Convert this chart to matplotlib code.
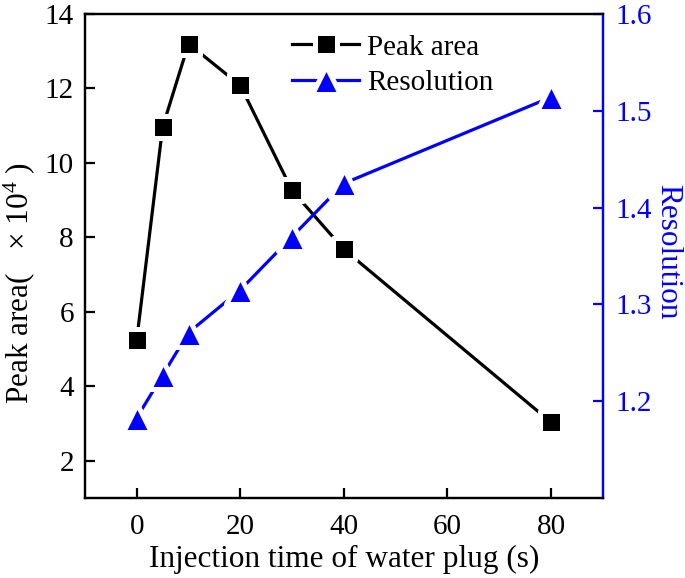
import matplotlib
matplotlib.use("Agg")
import matplotlib.pyplot as plt
from matplotlib.markers import MarkerStyle

plt.rcParams['font.family'] = ['Liberation Serif', 'DejaVu Serif']
plt.rcParams['mathtext.fontset'] = 'custom'
plt.rcParams['mathtext.rm'] = 'Liberation Serif'
plt.rcParams['mathtext.it'] = 'Liberation Serif:italic'

## data
timeS = [0, 5, 10, 20, 30, 40, 80]
peakArea = [5.25, 10.96, 13.2, 12.08, 9.26, 7.68, 3.04]
resolution = [1.183, 1.227, 1.271, 1.315, 1.370, 1.425, 1.514]

xTicks = [0, 20, 40, 60, 80]
leftTicks = [2, 4, 6, 8, 10, 12, 14]
rightTicks = [1.2, 1.3, 1.4, 1.5, 1.6]

blue = '#0000FF'

fig = plt.figure(figsize=(6.85, 5.78), dpi=100)
ax = fig.add_axes([0.124, 0.138, 0.756, 0.838])
ax2 = ax.twinx()

## white marker edge gives the gap between line and marker (Origin style)
sq = MarkerStyle('s', joinstyle='round')
tri = MarkerStyle('^', joinstyle='round')
l1, = ax.plot(timeS, peakArea, color='black', lw=2.3, marker=sq, markersize=15.6,
              markerfacecolor='black', markeredgecolor='white', markeredgewidth=3.6)
l2, = ax2.plot(timeS, resolution, color=blue, lw=2.3, marker=tri, markersize=20,
               markerfacecolor=blue, markeredgecolor='white', markeredgewidth=3.6)

ax.set_xlim(-10, 90)
ax.set_ylim(1, 14)
ax2.set_ylim(1.1, 1.6)
ax.set_xticks(xTicks)
ax.set_yticks(leftTicks)
ax2.set_yticks(rightTicks)
ax2.set_yticklabels([str(v) for v in rightTicks])

for a in (ax, ax2):
	for s in a.spines.values():
		s.set_linewidth(1.6)
ax2.spines['right'].set_color(blue)

ax.tick_params(axis='both', direction='in', length=7, width=1.6, labelsize=21, pad=8)
ax.tick_params(axis='x', pad=11)
ax.tick_params(axis='y', right=False)
ax2.tick_params(axis='y', direction='in', length=7, width=1.6, labelsize=21,
                colors=blue, pad=9)

ax.set_xlabel("Injection time of water plug (s)", fontsize=22.5)
ax.xaxis.set_label_coords(0.5, -0.097)
ax.set_ylabel("Peak area(   × 10$^4$ )", fontsize=22.5)
ax.yaxis.set_label_coords(-0.093, 0.444)
ax2.set_ylabel("Resolution", fontsize=22.5, color=blue, rotation=270, va='bottom')
ax2.yaxis.set_label_coords(1.0965, 0.508)

leg = ax.legend([l1, l2], ["Peak area", "Resolution"], loc='upper left',
                bbox_to_anchor=(0.40, 0.958), frameon=False, fontsize=21,
                handlelength=2.3, handletextpad=0.28, labelspacing=0.32,
                borderpad=0, borderaxespad=0, numpoints=1)

fig.savefig("out.png", dpi=100)
